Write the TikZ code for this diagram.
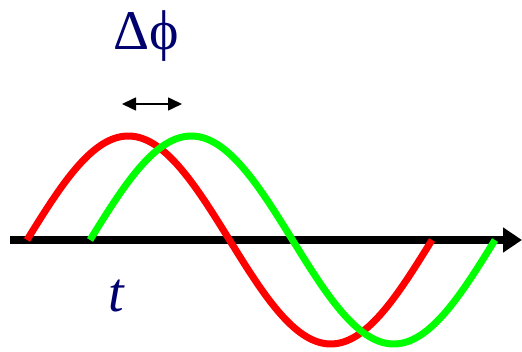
\documentclass[tikz,border=0pt]{standalone}
\usepackage{fontspec}
\setmainfont{Liberation Serif}
\usepackage{tikz}
\usetikzlibrary{positioning, arrows.meta}
\definecolor{navylabel}{RGB}{0,0,110}
\definecolor{wavegreen}{RGB}{0,255,0}
\newcommand{\Period}{405}
\newcommand{\Amp}{104}

\begin{document}
\begin{tikzpicture}[
  x=1pt, y=-1pt,
  label/.style={text=navylabel, font=\fontsize{56}{60}\selectfont, inner sep=0pt},
  wave/.style={line width=7pt},
  axis/.style={line width=8pt, -{Triangle[length=19pt, width=24pt]}},
  shift arr/.style={line width=1.6pt, {Triangle[length=14pt, width=13pt]}-{Triangle[length=14pt, width=13pt]}}
]
\useasboundingbox (0,0) rectangle (522,352);

% time axis
\coordinate (axstart) at (10,240);
\coordinate (axend)   at (522,240);
\draw[axis] (axstart) -- (axend);

% the two waves
\draw[wave, red] plot[domain=0:\Period, samples=120]
  ({27+\x}, {240-\Amp*sin(\x/\Period*360)});
\draw[wave, wavegreen] plot[domain=0:\Period, samples=120]
  ({90+\x}, {240-\Amp*sin(\x/\Period*360)});

% labels
\node[label] (dphi) at (146,36) {Δϕ};
\node[label] (tlab) at (116,296) {\itshape t};

% phase shift
\coordinate (pl) at (122,104);
\coordinate (pr) at (182,104);
\draw[shift arr] (pl) -- (pr);
\end{tikzpicture}
\end{document}
